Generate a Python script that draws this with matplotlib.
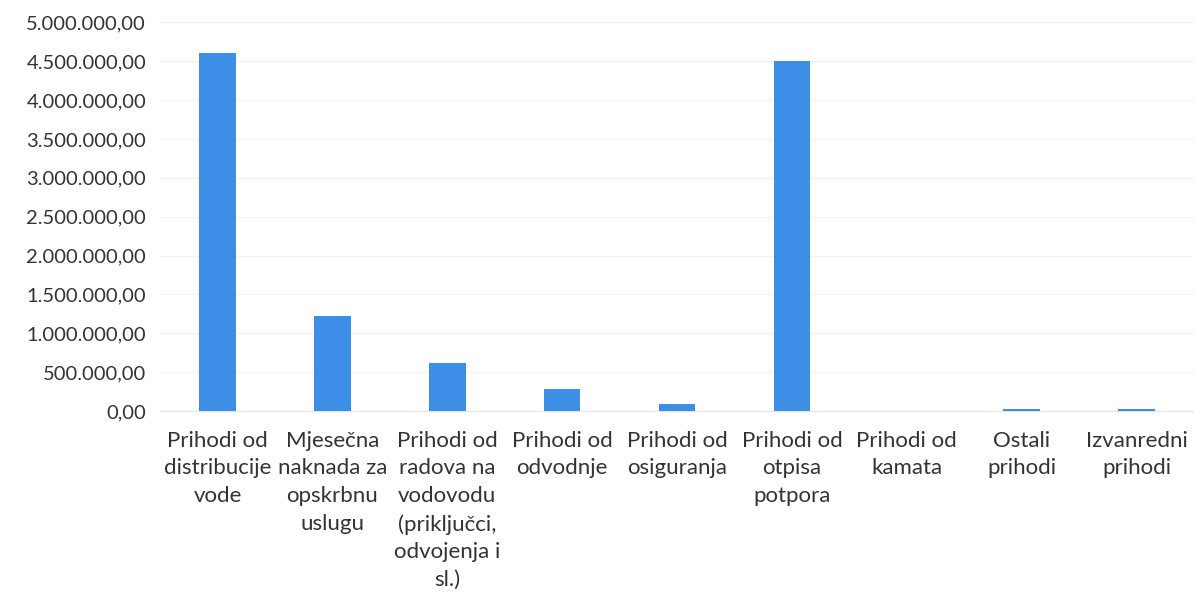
import matplotlib.pyplot as plt
from matplotlib.ticker import FuncFormatter

plt.rcParams['font.family'] = ['Lato', 'DejaVu Sans']

# Categories (wrapped as in the original chart)
categories = [
    "Prihodi od\ndistribucije\nvode",
    "Mjesečna\nnaknada za\nopskrbnu\nuslugu",
    "Prihodi od\nradova na\nvodovodu\n(priključci,\nodvojenja i\nsl.)",
    "Prihodi od\nodvodnje",
    "Prihodi od\nosiguranja",
    "Prihodi od\notpisa\npotpora",
    "Prihodi od\nkamata",
    "Ostali\nprihodi",
    "Izvanredni\nprihodi",
]
values = [4600000, 1220000, 620000, 280000, 90000, 4500000, 5000, 25000, 25000]
yticks = [0, 500000, 1000000, 1500000, 2000000, 2500000, 3000000, 3500000, 4000000, 4500000, 5000000]


def hr_format(v, pos):
    s = f"{v:,.2f}"
    return s.replace(",", "X").replace(".", ",").replace("X", ".")


fig = plt.figure(figsize=(11.94, 6.02), dpi=100)
ax = fig.add_axes([0.134, 0.317, 0.866, 0.646])

x = range(len(categories))
ax.bar(x, values, width=0.32, color='#3d8ee6', zorder=3)

ax.set_xlim(-0.5, len(categories) - 0.5)
ax.set_ylim(0, 5000000)
ax.set_yticks(yticks)
ax.yaxis.set_major_formatter(FuncFormatter(hr_format))
ax.set_xticks(list(x))
ax.set_xticklabels(categories, fontsize=16, color='#333333', linespacing=1.48)

ax.tick_params(axis='y', labelsize=14.5, labelcolor='#333333', length=0, pad=10)
ax.tick_params(axis='x', length=0, pad=14)

ax.grid(axis='y', color='#f3f3f3', linewidth=1, zorder=0)
for side in ['top', 'right', 'left']:
    ax.spines[side].set_visible(False)
ax.spines['bottom'].set_color('#e6e6e6')

fig.savefig('out.png', dpi=100)
